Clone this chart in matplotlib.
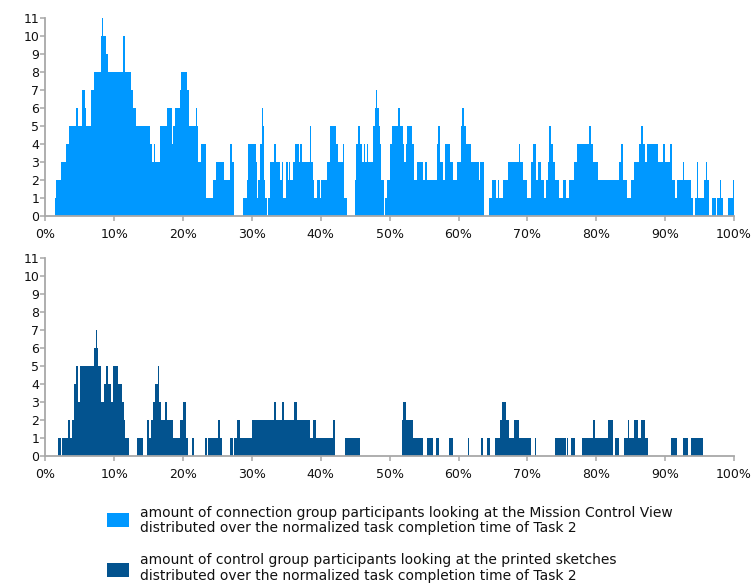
import matplotlib
matplotlib.use("Agg")
import matplotlib.pyplot as plt
from matplotlib.patches import Rectangle

# step data: each count holds from its start (% of task time) up to the next start
conn_starts = [
    1.36, 1.60, 2.28, 3.01, 3.40, 4.51, 4.81, 5.39, 5.73, 5.97,
    6.70, 7.04, 8.11, 8.30, 8.40, 8.79, 9.13, 11.21, 11.50, 12.38,
    12.72, 13.16, 15.15, 15.53, 15.73, 15.97, 16.60, 17.67, 18.40, 18.59,
    18.79, 18.88, 19.51, 19.71, 20.53, 20.92, 21.84, 21.99, 22.23, 22.57,
    23.30, 24.37, 24.81, 25.92, 26.75, 27.04, 27.43, 28.74, 29.27, 29.47,
    30.53, 30.73, 30.92, 31.12, 31.41, 31.50, 31.60, 31.70, 31.89, 32.18,
    32.28, 32.57, 33.25, 33.54, 34.03, 34.32, 34.51, 34.90, 35.19, 35.39,
    35.49, 35.97, 36.26, 36.84, 37.04, 37.23, 38.40, 38.59, 38.88, 39.08,
    39.47, 39.95, 40.05, 40.92, 41.31, 42.28, 42.57, 43.16, 43.35, 43.74,
    44.90, 45.10, 45.39, 45.68, 45.97, 46.26, 46.46, 46.65, 46.84, 47.62,
    47.82, 48.01, 48.11, 48.40, 48.59, 48.79, 49.17, 49.37, 49.56, 50.05,
    50.34, 51.21, 51.50, 51.89, 52.09, 52.38, 52.57, 53.25, 53.54, 54.03,
    54.90, 55.10, 55.49, 56.84, 57.04, 57.33, 57.72, 58.01, 58.69, 59.27,
    59.76, 60.34, 60.53, 60.73, 61.12, 61.80, 62.96, 63.16, 63.64, 63.74,
    64.42, 64.81, 65.49, 65.78, 65.91, 66.39, 67.17, 68.82, 68.91, 69.39,
    69.88, 70.56, 70.75, 71.23, 71.53, 72.01, 72.40, 72.69, 72.98, 73.17,
    73.46, 73.66, 74.04, 74.53, 75.11, 75.59, 75.98, 76.75, 77.14, 78.01,
    78.11, 78.89, 79.18, 79.47, 80.24, 80.92, 81.02, 83.24, 83.54, 83.92,
    84.50, 84.99, 85.47, 86.15, 86.54, 86.73, 87.12, 87.41, 88.96, 89.35,
    89.44, 89.73, 89.93, 90.70, 90.99, 91.38, 91.67, 92.64, 92.74, 93.80,
    94.10, 94.30, 94.60, 94.80, 95.60, 96.00, 96.10, 96.40, 96.80, 97.40,
    97.60, 97.90, 98.10, 98.40, 99.10, 99.80,
]
conn_counts = [
    1, 2, 3, 4, 5, 6, 5, 7, 6, 5,
    7, 8, 10, 11, 10, 9, 8, 10, 8, 7,
    6, 5, 4, 3, 4, 3, 5, 6, 4, 5,
    7, 6, 7, 8, 7, 5, 6, 5, 3, 4,
    1, 2, 3, 2, 4, 3, 0, 1, 2, 4,
    3, 1, 2, 4, 5, 6, 5, 2, 1, 0,
    1, 3, 4, 3, 2, 3, 1, 3, 2, 3,
    2, 3, 4, 3, 4, 3, 5, 3, 2, 1,
    2, 1, 2, 3, 5, 4, 3, 4, 1, 0,
    2, 4, 5, 4, 3, 4, 3, 4, 3, 5,
    6, 7, 6, 5, 4, 2, 0, 1, 2, 4,
    5, 6, 5, 4, 3, 4, 5, 4, 2, 3,
    2, 3, 2, 4, 5, 3, 2, 4, 3, 2,
    3, 5, 6, 5, 4, 3, 2, 3, 1, 0,
    1, 2, 1, 2, 1, 2, 3, 4, 3, 2,
    1, 3, 4, 2, 3, 2, 1, 2, 3, 5,
    4, 3, 2, 1, 2, 1, 2, 3, 4, 5,
    4, 5, 4, 3, 2, 3, 2, 3, 4, 2,
    1, 2, 3, 4, 5, 4, 3, 4, 3, 4,
    3, 4, 3, 4, 2, 1, 2, 3, 2, 1,
    0, 1, 3, 1, 2, 3, 2, 0, 1, 0,
    1, 2, 1, 0, 1, 2,
]
conn_end = 100.0

ctrl_starts = [
    1.80, 2.28, 2.48, 3.35, 3.54, 3.93, 4.22, 4.51, 4.81, 5.00,
    7.04, 7.33, 7.52, 7.72, 8.11, 8.50, 8.79, 9.08, 9.47, 9.76,
    10.53, 11.12, 11.41, 11.60, 12.18, 13.35, 14.22, 14.80, 15.10, 15.29,
    15.68, 15.97, 16.36, 16.55, 16.75, 17.43, 17.72, 18.59, 19.56, 20.05,
    20.44, 20.73, 21.31, 21.60, 23.16, 23.45, 23.64, 25.10, 25.39, 25.68,
    26.75, 27.23, 27.43, 27.82, 28.30, 30.05, 33.25, 33.54, 34.32, 34.61,
    36.17, 36.55, 38.40, 38.88, 39.37, 41.80, 42.00, 43.50, 45.73, 51.80,
    52.00, 52.38, 53.45, 54.90, 55.49, 56.26, 56.75, 57.14, 58.60, 59.27,
    61.31, 61.50, 63.25, 63.54, 64.13, 64.51, 65.23, 66.00, 66.30, 66.87,
    67.26, 68.03, 68.71, 70.56, 71.05, 71.24, 73.95, 75.64, 75.79, 75.93,
    76.37, 76.85, 77.92, 79.56, 79.76, 81.70, 82.48, 82.77, 83.36, 84.04,
    84.60, 84.80, 85.47, 86.05, 86.44, 87.12, 87.51, 90.90, 91.67, 92.54,
    93.32, 93.80,
]
ctrl_counts = [
    1, 0, 1, 2, 1, 2, 4, 5, 3, 5,
    6, 7, 6, 5, 3, 4, 5, 4, 3, 5,
    4, 3, 2, 1, 0, 1, 0, 2, 1, 2,
    3, 4, 5, 3, 2, 3, 2, 1, 2, 3,
    1, 0, 1, 0, 1, 0, 1, 2, 1, 0,
    1, 0, 1, 2, 1, 2, 3, 2, 3, 2,
    3, 2, 1, 2, 1, 2, 0, 1, 0, 2,
    3, 2, 1, 0, 1, 0, 1, 0, 1, 0,
    1, 0, 1, 0, 1, 0, 1, 2, 3, 2,
    1, 2, 1, 0, 1, 0, 1, 0, 1, 0,
    1, 0, 1, 2, 1, 2, 0, 1, 0, 1,
    2, 1, 2, 1, 2, 1, 0, 1, 0, 1,
    0, 1,
]
ctrl_end = 95.45

x_ticks = list(range(0, 101, 10))
x_labels = [f"{t}%" for t in x_ticks]
y_ticks = list(range(0, 12))

conn_color = "#0098FF"
ctrl_color = "#03538F"
axis_gray = "#A8A8A8"

conn_label = ("amount of connection group participants looking at the Mission Control View",
              "distributed over the normalized task completion time of Task 2")
ctrl_label = ("amount of control group participants looking at the printed sketches",
              "distributed over the normalized task completion time of Task 2")

fig = plt.figure(figsize=(7.55, 5.84), dpi=100)

ax_top = fig.add_axes([0.0600, 0.6301, 0.9122, 0.3390])
ax_bot = fig.add_axes([0.0600, 0.2192, 0.9122, 0.3396])


def style_axis(ax):
    ax.set_xlim(0, 100)
    ax.set_ylim(0, 11)
    for side in ("top", "right"):
        ax.spines[side].set_visible(False)
    for side in ("left", "bottom"):
        ax.spines[side].set_color(axis_gray)
        ax.spines[side].set_linewidth(1.3)
    ax.set_xticks(x_ticks, x_labels)
    ax.set_yticks(y_ticks)
    ax.tick_params(axis="x", length=3.5, width=1.1, color=axis_gray, pad=5,
                   labelsize=9, labelcolor="#111111")
    ax.tick_params(axis="y", length=3.5, width=1.1, color=axis_gray, pad=1,
                   labelsize=9, labelcolor="#111111")


ax_top.stairs(conn_counts, conn_starts + [conn_end], fill=True,
              color=conn_color, linewidth=0)
ax_bot.stairs(ctrl_counts, ctrl_starts + [ctrl_end], fill=True,
              color=ctrl_color, linewidth=0)
style_axis(ax_top)
style_axis(ax_bot)

# legend drawn by hand below the panels
W, H = 755.0, 584.0
entries = [(conn_color, conn_label, 512.7, 516.7),
           (ctrl_color, ctrl_label, 562.7, 564.3)]
for color, lines, sq_top, base in entries:
    fig.patches.append(Rectangle((106.7 / W, 1 - (sq_top + 14.6) / H), 22.6 / W, 14.6 / H,
                                 transform=fig.transFigure, facecolor=color,
                                 edgecolor="none"))
    for i, line in enumerate(lines):
        fig.text(140 / W, 1 - (base + i * 15.6) / H, line, fontsize=10,
                 color="#111111", ha="left", va="baseline")

fig.savefig("out.png", dpi=100)
